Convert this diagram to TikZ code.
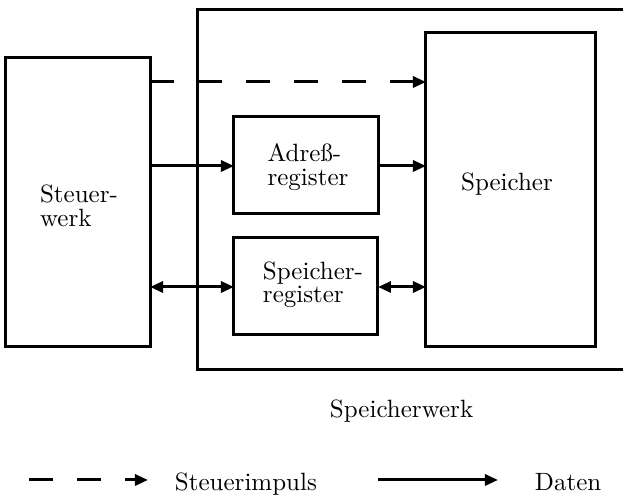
\documentclass[tikz,border=0pt]{standalone}
\usetikzlibrary{arrows.meta}
\begin{document}
\begin{tikzpicture}[x=0.4pt,y=-0.4pt,
  line width=1.2pt,
  every node/.style={font=\fontsize{10}{9.4}\selectfont},
  block/.style={draw, line width=1.2pt, rectangle, inner sep=0pt, outer sep=0pt},
  caption/.style={inner sep=0pt, outer sep=0pt, align=left},
  tip/.style={-{Triangle[length=5.2pt,width=4.4pt]}},
  bitip/.style={{Triangle[length=5.2pt,width=4.4pt]}-{Triangle[length=5.2pt,width=4.4pt]}},
  ctrl/.style={tip, dash pattern=on 9.6pt off 9.6pt},
  data/.style={tip},
  bidata/.style={bitip}]
\useasboundingbox (0,0) rectangle (623,497);
\begin{scope}
\clip (0,0) rectangle (623,497);

% blocks
\node[block, minimum width=200.8pt, minimum height=144pt] (werk) at (449,190) {};
\node[block, minimum width=57.6pt, minimum height=115.6pt] (stw) at (78,202.5) {};
\node[block, minimum width=58pt, minimum height=38.8pt] (adr) at (306.5,165.5) {};
\node[block, minimum width=57.6pt, minimum height=38.8pt] (sreg) at (306,286.5) {};
\node[block, minimum width=68pt, minimum height=125.6pt] (spc) at (511,190) {};

% block captions
\node[caption] (stwtxt) at (79,206) {Steuer-\\werk};
\node[caption] (adrtxt) at (308,167) {Adreß-\\register};
\node[caption] (sregtxt) at (313,285) {Speicher-\\register};
\node[caption] (spctxt) at (507,184) {Speicher};
\node[caption, anchor=base west] (werktxt) at (330,418) {Speicherwerk};

% rows of the connectors
\coordinate (rowctrl) at (0,82);
\coordinate (rowadr) at (0,166);
\coordinate (rowdat) at (0,287);

% connectors
\draw[ctrl] (stw.east |- rowctrl) -- (spc.west |- rowctrl);
\draw[data] (stw.east |- rowadr) -- (adr.west |- rowadr);
\draw[data] (adr.east |- rowadr) -- (spc.west |- rowadr);
\draw[bidata] (stw.east |- rowdat) -- (sreg.west |- rowdat);
\draw[bidata] (sreg.east |- rowdat) -- (spc.west |- rowdat);
\end{scope}

% legend
\coordinate (lca) at (29,480);
\coordinate (lcb) at (148,480);
\coordinate (lda) at (378,480);
\coordinate (ldb) at (498,480);
\draw[ctrl] (lca) -- (lcb);
\draw[data] (lda) -- (ldb);
\node[caption, anchor=base west] (lctxt) at (175,491) {Steuerimpuls};
\node[caption, anchor=base west] (ldtxt) at (535,491) {Daten};
\end{tikzpicture}
\end{document}
